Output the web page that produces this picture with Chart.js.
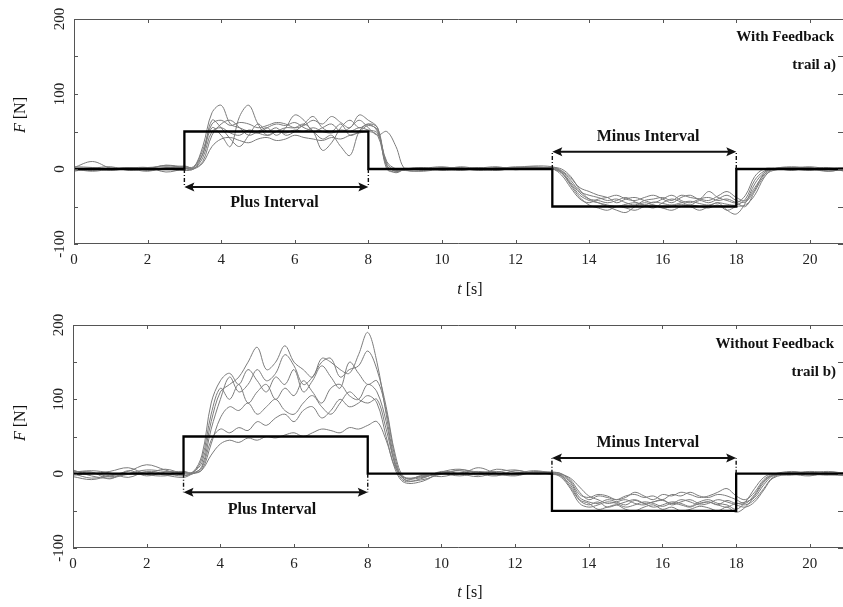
<!DOCTYPE html>
<html>
<head>
<meta charset="utf-8">
<script src="https://cdn.jsdelivr.net/npm/chart.js@4.4.0/dist/chart.umd.min.js"></script>
<style>
  html, body { margin: 0; padding: 0; background: #fff; }
  .panel { position: relative; width: 843px; }
  #top { height: 300px; }
  #bottom { height: 307px; }
</style>
</head>
<body>
<div class="panel" id="top"><canvas id="cTop"></canvas></div>
<div class="panel" id="bottom"><canvas id="cBottom"></canvas></div>
<script>
// sample times [s] shared by every trial trace
const time = [0,0.5,1,1.5,2,2.5,3,
  3.25,3.5,3.75,4,4.25,4.5,4.75,5,5.25,5.5,5.75,6,6.25,6.5,6.75,7,7.25,7.5,7.75,8,8.25,8.5,8.75,9,
  9.5,10,10.5,11,11.5,12,12.5,
  13,13.25,13.5,13.75,14,14.25,14.5,14.75,15,15.25,15.5,15.75,16,16.25,16.5,16.75,17,17.25,17.5,17.75,18,18.25,18.5,18.75,19,
  19.5,20,20.5,21];

// reference (target) force, step profile
const refT = [0, 3, 3, 8, 8, 13, 13, 18, 18, 21];
const refF = [0, 0, 50, 50, 0, 0, -50, -50, 0, 0];

// trail a) with feedback
const withFb1 = [2,10,1,0,2,3,2, 2,30,75,85,60,55,50,48,55,60,58,62,55,50,40,45,30,18,50,60,55,5,-3,0, 1,-2,0,2,-1,1,3, 0,-5,-20,-35,-42,-45,-48,-50,-47,-45,-48,-44,-46,-48,-45,-43,-46,-48,-45,-47,-48,-40,-15,-3,0, 2,0,-3,1];
const withFb2 = [0,-2,1,-1,0,5,1, 0,20,55,45,30,70,85,60,45,50,55,55,60,50,25,35,55,65,55,60,50,10,0,-2, -3,0,2,-1,1,0,2, 2,0,-10,-28,-40,-45,-50,-55,-58,-50,-45,-48,-52,-50,-47,-50,-55,-50,-45,-55,-60,-45,-20,-5,0, 1,3,0,-2];
const withFb3 = [-3,1,0,2,-2,1,4, 1,10,45,60,65,55,45,50,55,45,55,72,65,50,55,60,50,55,65,55,45,50,30,0, -2,1,-1,0,2,1,0, 0,-8,-25,-40,-45,-40,-38,-35,-40,-42,-38,-35,-40,-45,-38,-35,-40,-30,-38,-42,-45,-35,-10,0,1, -1,0,2,-4];
const withFb4 = [1,0,-2,1,2,-4,0, 0,8,30,40,42,38,35,40,42,38,40,45,42,40,38,42,40,45,48,50,45,5,-3,-1, 0,2,1,-2,0,3,1, 1,-3,-15,-30,-35,-38,-42,-40,-45,-48,-42,-40,-38,-42,-35,-38,-40,-42,-36,-30,-38,-42,-25,-8,0, 3,1,-1,0];
const withFb5 = [3,2,-1,0,-3,2,1, 2,25,60,65,58,62,60,55,58,62,60,55,58,65,60,70,62,55,72,65,55,0,-4,0, 2,-1,3,0,-2,2,4, 3,-2,-12,-25,-30,-35,-38,-45,-40,-38,-42,-45,-40,-35,-42,-45,-40,-38,-42,-40,-45,-50,-30,-10,-2, 0,-2,1,2];
const withFb6 = [-1,1,3,-2,0,0,-2, 0,15,50,55,48,45,52,48,45,50,48,52,50,55,50,48,52,50,55,52,48,8,-2,1, -1,0,-2,1,3,-1,2, 0,-5,-22,-38,-48,-52,-55,-50,-52,-55,-50,-48,-52,-55,-50,-48,-50,-52,-48,-55,-50,-48,-35,-12,0, 2,1,0,-1];
const withFb7 = [0,-3,0,2,1,5,3, 3,20,65,55,40,30,45,60,50,55,45,50,60,70,55,50,60,45,50,58,52,3,-5,0, 1,3,0,-1,0,2,1, 2,-4,-18,-32,-40,-42,-45,-42,-38,-44,-48,-52,-45,-40,-44,-48,-42,-45,-40,-35,-42,-44,-28,-6,1, -2,2,-3,1];

// trail b) without feedback
const withoutFb1 = [5,-3,-6,0,5,3,1, 2,15,70,110,120,130,150,170,140,150,172,150,140,130,155,150,140,135,160,190,150,80,15,-8, -8,0,4,-2,6,2,1, 0,-2,-12,-32,-38,-40,-35,-38,-42,-36,-40,-38,-35,-42,-38,-35,-40,-38,-42,-36,-40,-38,-32,-15,-3, -2,1,3,0];
const withoutFb2 = [-2,0,3,8,-1,-3,2, 0,10,60,100,130,110,120,140,125,135,160,145,120,130,150,155,130,140,145,165,140,90,25,-5, -5,2,-1,8,0,-3,2, 2,0,-8,-25,-35,-30,-32,-35,-30,-28,-32,-30,-35,-28,-30,-25,-30,-32,-28,-30,-35,-40,-28,-10,-2, 1,-2,0,2];
const withoutFb3 = [0,-6,-2,3,12,5,-2, 1,20,80,115,100,120,95,110,120,100,115,105,125,110,95,115,120,105,100,120,110,70,10,-10, -6,3,0,-4,2,5,0, 0,-5,-20,-40,-45,-42,-38,-40,-45,-42,-38,-40,-44,-40,-42,-45,-40,-38,-42,-45,-40,-42,-35,-20,-5, 2,0,-1,-3];
const withoutFb4 = [3,2,-4,-1,0,6,0, 0,5,40,75,90,85,95,80,90,100,85,80,95,105,90,80,95,110,100,95,100,60,12,-6, -3,-1,5,2,-2,0,4, 1,-1,-6,-18,-30,-35,-40,-38,-35,-40,-42,-38,-36,-40,-35,-38,-42,-40,-35,-38,-42,-45,-38,-22,-6, 0,3,1,-1];
const withoutFb5 = [-4,-8,-3,0,2,-2,-5, 0,5,25,40,45,42,48,45,50,48,52,55,50,55,60,58,55,62,60,65,70,45,8,-5, -4,0,-3,1,3,-1,2, -1,-3,-15,-35,-40,-48,-45,-42,-48,-50,-45,-42,-48,-45,-50,-48,-44,-46,-50,-45,-52,-45,-30,-12,-2, -1,-3,2,0];
const withoutFb6 = [2,4,1,-5,3,0,-3, 1,8,45,60,55,62,58,70,65,75,80,70,85,90,75,85,100,90,95,105,95,50,5,-12, -10,2,6,0,-3,4,1, 2,0,-10,-28,-32,-28,-30,-35,-32,-25,-30,-35,-28,-30,-25,-28,-32,-30,-25,-20,-30,-35,-25,-8,-1, 3,0,-2,1];
const withoutFb7 = [-1,2,-7,4,-3,2,3, 2,25,95,125,135,120,140,125,110,130,120,140,110,125,145,130,115,150,135,120,125,85,20,-8, -2,-4,1,3,0,-2,3, 0,-3,-18,-36,-42,-38,-45,-42,-38,-35,-40,-45,-42,-38,-40,-44,-38,-35,-40,-42,-48,-38,-20,-5,0, 0,2,-1,-2];

const xTickValues = [0, 2, 4, 6, 8, 10, 12, 14, 16, 18, 20];
const yLabelValues = [-100, 0, 100, 200];
const plusInterval = [3, 8];
const minusInterval = [13, 18];

const SERIF = '"Liberation Serif", "DejaVu Serif", serif';

function toPoints(xs, ys) {
  return xs.map((v, i) => ({ x: v, y: ys[i] }));
}

function arrow(ctx, x1, x2, y) {
  const h = 10, w = 4.5;
  ctx.beginPath();
  ctx.moveTo(x1 + 3, y); ctx.lineTo(x2 - 3, y); ctx.stroke();
  ctx.beginPath();
  ctx.moveTo(x1, y); ctx.lineTo(x1 + h, y - w); ctx.lineTo(x1 + h - 2, y); ctx.lineTo(x1 + h, y + w); ctx.closePath(); ctx.fill();
  ctx.beginPath();
  ctx.moveTo(x2, y); ctx.lineTo(x2 - h, y - w); ctx.lineTo(x2 - h + 2, y); ctx.lineTo(x2 - h, y + w); ctx.closePath(); ctx.fill();
}

function interval(ctx, x, y, span, arrowY, text, textX, textY) {
  const x1 = x.getPixelForValue(span[0]), x2 = x.getPixelForValue(span[1]);
  const y0 = y.getPixelForValue(0), ya = y.getPixelForValue(arrowY);
  ctx.save();
  ctx.strokeStyle = '#111'; ctx.fillStyle = '#111';
  ctx.lineWidth = 1.4;
  ctx.setLineDash([4, 2, 1, 2]);
  ctx.beginPath();
  ctx.moveTo(x1, y0); ctx.lineTo(x1, ya);
  ctx.moveTo(x2, y0); ctx.lineTo(x2, ya);
  ctx.stroke();
  ctx.setLineDash([]);
  ctx.lineWidth = 2;
  arrow(ctx, x1, x2, ya);
  ctx.font = 'bold 16px ' + SERIF;
  ctx.textAlign = 'center'; ctx.textBaseline = 'middle';
  ctx.fillText(text, x.getPixelForValue(textX), y.getPixelForValue(textY));
  ctx.restore();
}

// draws mixed italic / upright pieces one after another
function mixedText(ctx, parts, cx, cy, size) {
  let total = 0;
  parts.forEach(p => { ctx.font = (p[1] ? 'italic ' : '') + size + 'px ' + SERIF; total += ctx.measureText(p[0]).width; });
  let cur = cx - total / 2;
  ctx.textAlign = 'left'; ctx.textBaseline = 'middle';
  parts.forEach(p => {
    ctx.font = (p[1] ? 'italic ' : '') + size + 'px ' + SERIF;
    ctx.fillText(p[0], cur, cy);
    cur += ctx.measureText(p[0]).width;
  });
}

const decorPlugin = {
  id: 'decor',
  afterDatasetsDraw(chart, args, o) {
    const { ctx, chartArea: a, scales: { x, y } } = chart;
    ctx.save();
    // frame (right side runs off the page)
    ctx.strokeStyle = '#555';
    ctx.lineWidth = 1;
    ctx.beginPath();
    ctx.moveTo(a.right, a.top + 0.5);
    ctx.lineTo(a.left + 0.5, a.top + 0.5);
    ctx.lineTo(a.left + 0.5, a.bottom - 0.5);
    ctx.lineTo(a.right, a.bottom - 0.5);
    ctx.stroke();
    // inward tick marks
    ctx.beginPath();
    x.ticks.forEach(t => {
      const px = Math.round(x.getPixelForValue(t.value)) + 0.5;
      ctx.moveTo(px, a.bottom); ctx.lineTo(px, a.bottom - 4);
      ctx.moveTo(px, a.top); ctx.lineTo(px, a.top + 4);
    });
    y.ticks.forEach(t => {
      const py = Math.round(y.getPixelForValue(t.value)) + 0.5;
      ctx.moveTo(a.left, py); ctx.lineTo(a.left + 4, py);
      ctx.moveTo(a.right, py); ctx.lineTo(a.right - 5, py);
    });
    ctx.stroke();

    // rotated y tick labels
    ctx.fillStyle = '#222';
    ctx.font = '15px ' + SERIF;
    ctx.textAlign = 'center'; ctx.textBaseline = 'middle';
    yLabelValues.forEach(v => {
      ctx.save();
      ctx.translate(a.left - 14, y.getPixelForValue(v));
      ctx.rotate(-Math.PI / 2);
      ctx.fillText(String(v), 0, 0);
      ctx.restore();
    });

    // axis titles
    ctx.fillStyle = '#111';
    ctx.save();
    ctx.translate(21, o.yTitleY);
    ctx.rotate(-Math.PI / 2);
    mixedText(ctx, [['F', true], [' [N]', false]], 0, 0, 16);
    ctx.restore();
    mixedText(ctx, [['t', true], [' [s]', false]], 470, o.xTitleY, 16);

    // panel labels
    ctx.font = 'bold 15px ' + SERIF;
    ctx.textAlign = 'right'; ctx.textBaseline = 'middle';
    ctx.fillText(o.label1, 834, o.label1Y);
    ctx.fillText(o.label2, 836, o.label2Y);

    interval(ctx, x, y, plusInterval, o.plusArrowY, 'Plus Interval', o.plusTextX, o.plusTextY);
    interval(ctx, x, y, minusInterval, o.minusArrowY, 'Minus Interval', o.minusTextX, o.minusTextY);
    ctx.restore();
  }
};

function makeChart(id, traces, p) {
  const datasets = [{
    data: toPoints(refT, refF),
    borderColor: '#000',
    borderWidth: 2.3,
    pointRadius: 0,
    tension: 0
  }];
  traces.forEach(tr => datasets.push({
    data: toPoints(time, tr),
    borderColor: '#7c7c7c',
    borderWidth: 1,
    pointRadius: 0,
    tension: 0.35
  }));

  return new Chart(document.getElementById(id), {
    type: 'line',
    data: { datasets: datasets },
    options: {
      responsive: true,
      maintainAspectRatio: false,
      animation: false,
      devicePixelRatio: 1,
      layout: { padding: { left: 0, top: p.top, right: 0, bottom: 0 } },
      plugins: {
        legend: { display: false },
        tooltip: { enabled: false },
        decor: p
      },
      scales: {
        x: {
          type: 'linear',
          min: 0,
          max: 20.9,
          grid: { display: false, drawTicks: false },
          border: { display: false },
          ticks: {
            padding: 7,
            maxRotation: 0,
            autoSkip: false,
            color: '#222',
            font: { family: SERIF, size: 15 }
          },
          afterBuildTicks: s => { s.ticks = xTickValues.map(v => ({ value: v })); },
          afterFit: s => { s.height = p.xHeight; }
        },
        y: {
          min: -100,
          max: 200,
          grid: { display: false, drawTicks: false },
          border: { display: false },
          ticks: { stepSize: 50, display: false },
          afterFit: s => { s.width = p.yWidth; }
        }
      }
    },
    plugins: [decorPlugin]
  });
}

makeChart('cTop', [withFb1, withFb2, withFb3, withFb4, withFb5, withFb6, withFb7], {
  top: 19, yWidth: 74, xHeight: 56,
  yTitleY: 115, xTitleY: 290,
  label1: 'With Feedback', label1Y: 37,
  label2: 'trail a)', label2Y: 65,
  plusArrowY: -24, plusTextX: 5.45, plusTextY: -45,
  minusArrowY: 23, minusTextX: 15.6, minusTextY: 43
});

makeChart('cBottom', [withoutFb1, withoutFb2, withoutFb3, withoutFb4, withoutFb5, withoutFb6, withoutFb7], {
  top: 25, yWidth: 73, xHeight: 59,
  yTitleY: 123, xTitleY: 293,
  label1: 'Without Feedback', label1Y: 44,
  label2: 'trail b)', label2Y: 72,
  plusArrowY: -25, plusTextX: 5.4, plusTextY: -49,
  minusArrowY: 21, minusTextX: 15.6, minusTextY: 41
});
</script>
</body>
</html>
